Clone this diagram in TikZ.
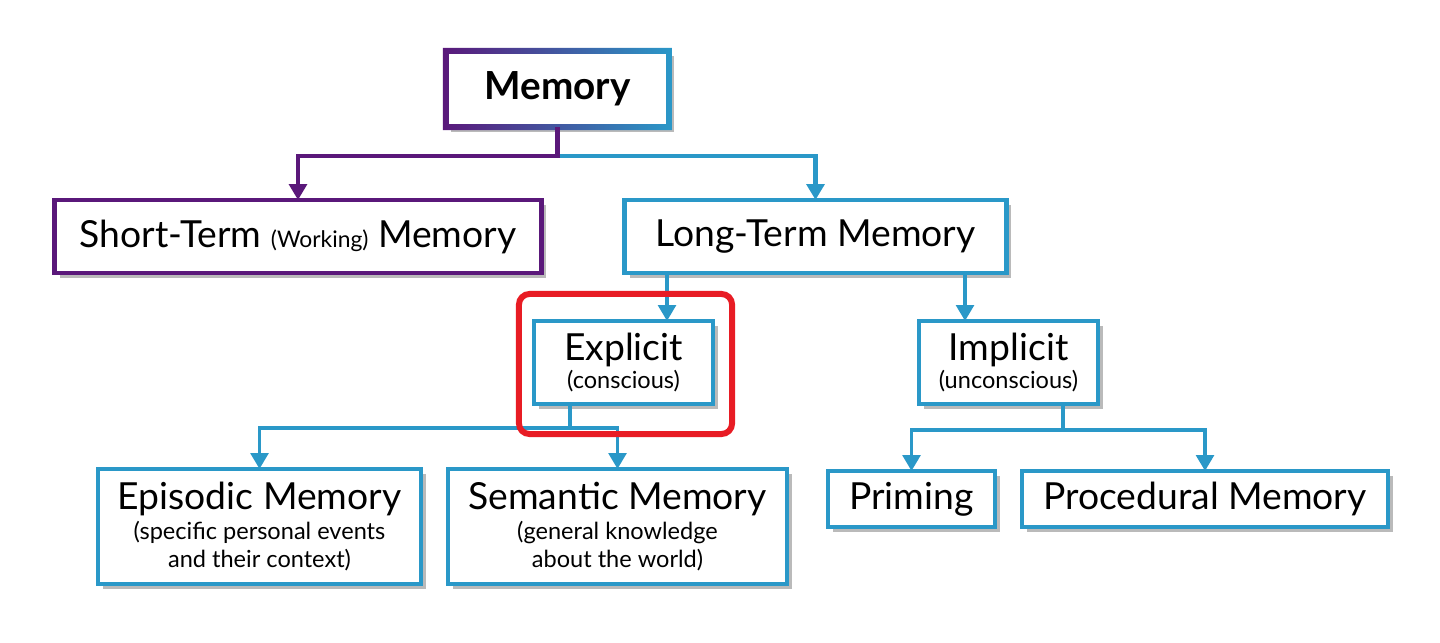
\documentclass[tikz,border=0pt]{standalone}
\usepackage{fontspec}
\setmainfont{Lato}
\usetikzlibrary{arrows.meta,shadows}
\definecolor{mempurple}{RGB}{90,24,122}
\definecolor{memblue}{RGB}{42,152,200}
\definecolor{memred}{RGB}{232,28,36}
\tikzset{
  box/.style={draw=memblue, line width=1pt, fill=white, align=center, inner sep=0pt, outer sep=0pt,
    font=\fontsize{10.6}{12}\selectfont,
    drop shadow={shadow xshift=0.05cm, shadow yshift=-0.05cm, fill=black!45, opacity=0.6}},
  topbox/.style={box, line width=1.4pt},
  link/.style={draw=#1, line width=1pt, -{Triangle[width=5pt,length=4.5pt]}},
  link/.default=memblue,
  hilite/.style={draw=memred, line width=1.7pt, rounded corners=3pt}
}
\newcommand{\subtxt}[1]{{\fontsize{6.7}{8}\selectfont #1}}
\begin{document}
\begin{tikzpicture}[x=0.01cm, y=-0.01cm]
  \useasboundingbox (0,0) rectangle (1440,642);
  % top level
  \node[topbox, line width=1.7pt, draw=mempurple, minimum width=2.23cm, minimum height=0.76cm] (mem) at (557.5,89) {\fontsize{11}{12}\selectfont\textbf{Memory}};
  \shade[left color=mempurple, right color=memblue, even odd rule]
    ([shift={(-0.85pt,0.85pt)}]mem.north west) rectangle ([shift={(0.85pt,-0.85pt)}]mem.south east)
    ([shift={(0.85pt,-0.85pt)}]mem.north west) rectangle ([shift={(-0.85pt,0.85pt)}]mem.south east);
  \node[topbox, draw=mempurple, minimum width=4.86cm, minimum height=0.73cm] (stm) at (298,236.5) {Short-Term {\fontsize{6.5}{7}\selectfont(Working)} Memory};
  \node[topbox, minimum width=3.81cm, minimum height=0.73cm] (ltm) at (815.5,236.5) {Long-Term Memory};
  \draw[link, line width=1.4pt] (mem.south) ++(0,29) -| (ltm.north);
  \draw[link=mempurple, line width=1.4pt] (mem.south) -- ++(0,29) -| (stm.north);
  % explicit / implicit
  \node[box, minimum width=1.79cm, minimum height=0.83cm] (exp) at (623.5,362.5) {Explicit\\[-4pt]\subtxt{(conscious)}};
  \node[box, minimum width=1.79cm, minimum height=0.83cm] (imp) at (1008.5,362.5) {Implicit\\[-4pt]\subtxt{(unconscious)}};
  \draw[link] (667,0 |- ltm.south) -- (667,0 |- exp.north);
  \draw[link] (965,0 |- ltm.south) -- (965,0 |- imp.north);
  % bottom row
  \node[box, minimum width=3.23cm, minimum height=1.15cm] (epi) at (259.5,526.5) {Episodic Memory\\[-3.3pt]\subtxt{(specific personal events}\\[-4pt]\subtxt{and their context)}};
  \node[box, minimum width=3.39cm, minimum height=1.15cm] (sem) at (617.5,526.5) {Semantic Memory\\[-3.3pt]\subtxt{(general knowledge}\\[-4pt]\subtxt{about the world)}};
  \node[box, minimum width=1.67cm, minimum height=0.56cm] (pri) at (911.5,499) {Priming};
  \node[box, minimum width=3.66cm, minimum height=0.56cm] (pro) at (1205,499) {Procedural Memory};
  \draw[link] (570,0 |- exp.south) -- (570,428) -| (epi.north);
  \draw[link] (570,428) -| (sem.north);
  \draw[link] (1063,0 |- imp.south) -- (1063,430) -| (pri.north);
  \draw[link] (1063,430) -| (pro.north);
  % highlight
  \draw[hilite] ([shift={(-15,-27)}]exp.north west) rectangle ([shift={(19,30)}]exp.south east);
\end{tikzpicture}
\end{document}
